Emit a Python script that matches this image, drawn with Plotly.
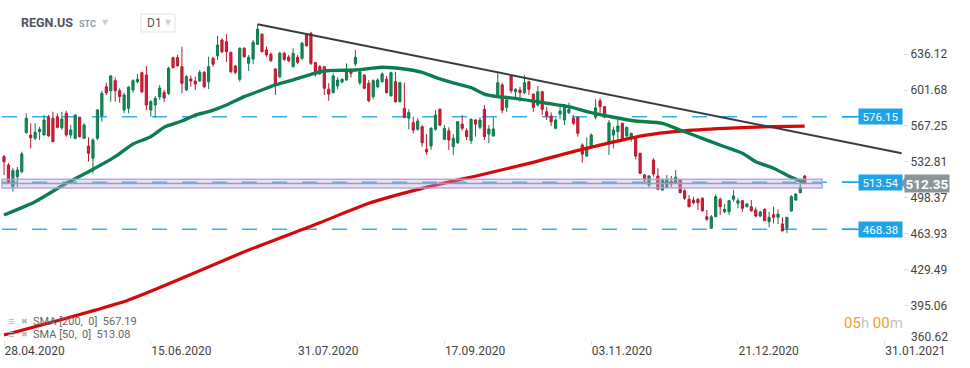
import plotly.graph_objects as go

# ---------------- data ----------------
opens = [
    537.9, 529.9, 509.2, 518.7, 523.5, 560.8, 558.6, 555.5, 561.8, 558.6,
    576.1, 574.6, 576.1, 565.6, 579.4, 558.6, 555.5, 575.6, 555.5, 548.1,
    536.3, 555.5, 577.1, 604.8, 601.0, 610.6, 601.0, 582.5, 584.2, 601.7,
    609.6, 618.2, 616.0, 582.5, 587.3, 595.0, 599.3, 598.5, 632.6, 632.6,
    624.0, 601.7, 612.2, 610.3, 610.3, 618.6, 609.6, 632.0, 634.5, 649.5,
    647.9, 637.7, 624.6, 611.9, 641.6, 627.2, 631.3, 645.4, 655.0, 640.0,
    635.8, 621.8, 614.4, 636.8, 633.2, 624.0, 633.0, 632.0, 654.3, 655.9,
    627.8, 624.0, 624.0, 602.4, 599.1, 605.5, 609.3, 611.2, 620.1, 626.5,
    608.6, 616.0, 608.1, 595.3, 604.8, 609.6, 611.9, 596.2, 609.6, 590.5,
    584.2, 574.6, 570.4, 564.1, 566.6, 544.9, 548.1, 564.1, 583.2, 554.5,
    562.7, 547.4, 551.3, 569.1, 562.7, 553.2, 573.0, 566.0, 583.2, 559.6,
    557.7, 595.3, 606.5, 585.1, 615.1, 600.0, 601.7, 599.1, 609.6, 597.6,
    587.3, 600.0, 580.9, 576.8, 565.0, 578.7, 573.0, 580.0, 574.6, 575.6,
    549.1, 538.5, 547.4, 575.6, 591.4, 585.7, 550.0, 558.6, 561.8, 569.8,
    557.7, 556.4, 555.5, 541.1, 520.4, 510.8, 534.7, 519.4, 506.0, 508.6,
    513.9, 513.0, 515.6, 505.3, 497.1, 496.4, 497.1, 498.1, 480.4, 469.4,
    480.4, 497.1, 485.2, 485.2, 497.1, 493.3, 495.8, 490.0, 490.0, 486.9,
    481.1, 487.5, 475.7, 482.4, 479.9, 473.5, 469.4, 485.9, 496.4, 503.4,
    519.4]
highs = [
    539.5, 531.8, 527.1, 528.0, 542.7, 579.4, 569.8, 569.8, 566.6, 577.7,
    577.7, 580.9, 579.4, 580.9, 581.9, 568.2, 578.4, 576.1, 569.8, 556.4,
    555.5, 583.5, 601.0, 608.6, 616.0, 613.8, 603.3, 599.1, 605.5, 611.9,
    617.0, 619.2, 624.6, 592.1, 595.9, 606.5, 601.7, 624.0, 633.5, 635.2,
    643.1, 616.0, 615.4, 614.4, 620.8, 619.8, 633.5, 633.5, 653.6, 651.1,
    655.0, 638.3, 625.6, 642.5, 642.5, 635.2, 649.5, 664.6, 655.9, 643.1,
    637.7, 622.4, 638.3, 638.3, 635.2, 641.6, 635.2, 647.9, 655.9, 657.4,
    628.7, 625.6, 624.0, 608.1, 617.6, 613.8, 612.9, 627.2, 622.4, 640.0,
    620.1, 616.7, 611.2, 611.9, 612.9, 618.6, 615.1, 619.2, 619.2, 609.6,
    608.6, 583.2, 576.1, 574.6, 568.2, 559.6, 566.0, 582.5, 584.2, 568.2,
    566.0, 559.6, 572.0, 577.7, 565.0, 574.6, 573.6, 575.6, 587.3, 568.2,
    575.6, 617.6, 608.6, 594.7, 616.0, 603.3, 604.8, 616.0, 610.6, 598.5,
    605.5, 601.0, 585.7, 580.3, 574.6, 585.7, 588.0, 589.5, 577.7, 576.1,
    550.7, 556.4, 560.2, 592.8, 593.7, 586.4, 573.0, 566.6, 573.0, 570.4,
    566.6, 560.8, 557.7, 541.7, 521.3, 520.4, 536.3, 526.8, 517.2, 520.4,
    519.4, 525.1, 516.2, 506.7, 501.2, 499.6, 498.1, 499.0, 486.9, 482.1,
    501.9, 499.0, 492.6, 496.4, 506.0, 498.1, 496.4, 493.3, 496.4, 489.4,
    486.2, 488.5, 485.2, 490.0, 487.5, 479.9, 479.9, 501.2, 502.8, 517.2,
    520.4]
lows = [
    520.4, 512.7, 504.4, 508.9, 522.0, 560.2, 545.9, 553.8, 553.8, 558.6,
    557.0, 552.2, 565.0, 563.4, 557.0, 555.5, 554.5, 556.4, 554.8, 533.1,
    522.0, 553.8, 571.4, 596.9, 590.5, 590.5, 589.5, 579.4, 579.4, 599.1,
    608.1, 598.5, 582.5, 576.1, 575.2, 592.1, 590.2, 596.9, 622.4, 624.0,
    598.5, 600.7, 604.8, 601.7, 609.6, 603.3, 602.6, 624.0, 630.4, 636.8,
    628.7, 617.6, 616.7, 609.6, 632.6, 619.9, 626.3, 644.7, 637.7, 633.5,
    628.7, 596.9, 612.9, 629.4, 628.2, 623.0, 626.3, 630.4, 643.1, 625.6,
    614.4, 616.0, 596.9, 591.4, 598.5, 602.4, 608.1, 610.6, 613.8, 624.6,
    606.5, 602.4, 589.9, 592.8, 603.3, 608.6, 598.5, 595.3, 589.5, 589.9,
    574.6, 564.1, 560.3, 562.7, 547.4, 539.5, 544.3, 562.7, 567.2, 553.8,
    544.3, 539.5, 550.0, 562.7, 553.8, 550.0, 557.0, 564.1, 553.8, 550.7,
    557.0, 593.7, 579.4, 580.9, 598.5, 592.8, 590.5, 597.8, 596.9, 580.9,
    585.7, 577.7, 573.0, 567.2, 564.1, 573.6, 568.2, 578.7, 568.2, 557.0,
    532.1, 537.9, 546.9, 573.6, 577.7, 574.6, 539.5, 545.9, 552.2, 553.2,
    556.4, 552.2, 535.4, 521.3, 513.9, 508.6, 518.7, 506.0, 505.3, 507.6,
    508.6, 512.4, 502.9, 496.4, 489.4, 492.6, 486.9, 485.2, 476.6, 468.7,
    480.4, 482.1, 483.7, 482.1, 494.8, 488.5, 485.2, 489.4, 485.2, 479.9,
    479.9, 476.6, 470.3, 474.1, 473.5, 466.8, 464.6, 485.2, 495.8, 502.9,
    512.0]
closes = [
    533.1, 513.9, 524.5, 525.1, 540.5, 574.6, 556.0, 561.2, 564.1, 573.0,
    557.7, 552.2, 566.0, 573.9, 558.6, 563.4, 577.7, 557.0, 568.2, 541.1,
    553.8, 582.5, 598.5, 599.1, 615.1, 601.0, 595.3, 596.9, 604.3, 610.6,
    611.9, 600.0, 587.3, 590.5, 593.7, 603.6, 594.0, 622.4, 623.0, 624.9,
    608.1, 614.4, 610.3, 607.4, 618.6, 604.8, 624.0, 626.3, 644.7, 638.3,
    638.3, 619.2, 618.6, 641.6, 633.5, 633.0, 647.3, 660.0, 638.3, 635.2,
    629.7, 607.1, 636.8, 631.0, 629.7, 636.8, 628.2, 646.4, 644.1, 627.2,
    619.2, 617.6, 603.3, 597.8, 615.1, 611.2, 611.9, 620.1, 617.6, 633.0,
    619.2, 603.3, 591.4, 610.6, 611.2, 617.0, 599.1, 618.2, 590.5, 608.6,
    575.6, 580.0, 563.4, 572.0, 551.3, 542.6, 565.0, 577.7, 568.2, 565.0,
    553.8, 555.5, 571.4, 565.0, 557.0, 573.6, 569.1, 573.0, 557.0, 564.4,
    564.4, 608.6, 582.5, 592.1, 601.0, 602.4, 599.1, 608.6, 602.4, 585.1,
    600.0, 583.2, 576.8, 571.4, 573.0, 581.6, 587.3, 583.2, 569.8, 560.2,
    540.2, 546.9, 558.6, 584.7, 585.7, 576.8, 570.4, 563.4, 567.2, 554.5,
    566.0, 560.2, 538.5, 522.0, 515.6, 519.4, 521.3, 506.7, 515.6, 515.6,
    511.7, 518.2, 503.4, 498.1, 490.0, 493.9, 493.9, 486.2, 478.0, 480.4,
    499.6, 490.0, 487.5, 495.8, 500.3, 495.8, 488.5, 492.6, 486.2, 481.1,
    485.0, 476.6, 479.9, 479.9, 483.0, 466.8, 479.9, 499.6, 502.2, 508.6,
    512.35]
assert len(opens) == len(highs) == len(lows) == len(closes)
bar_idx = list(range(len(closes)))

sma50_idx = [0, 7, 14, 19, 25, 29, 33, 36, 40, 43, 46, 50, 54, 58, 61, 65, 69, 72,
             79, 85, 90, 94, 97, 101, 105, 108, 111, 115, 122, 127, 132, 137, 142,
             148, 152, 158, 162, 166, 169, 173, 177, 180]
sma50 = [482.1, 494.8, 512.4, 523.5, 537.9, 550.0, 557.0, 566.0, 572.0, 577.7, 580.9,
         587.3, 595.3, 601.7, 606.5, 611.3, 616.7, 619.9, 620.8, 623.4, 621.8, 618.6,
         613.8, 608.6, 603.9, 597.8, 595.3, 593.7, 589.0, 585.7, 580.0, 575.6, 572.0,
         569.8, 563.4, 553.8, 547.4, 541.1, 533.1, 526.8, 518.2, 513.08]
sma200_idx = [0, 28, 55, 71, 82, 94, 108, 118, 130, 144, 152, 162, 173, 180]
sma200 = [367.3, 400.8, 448.6, 474.7, 493.3, 507.6, 521.3, 531.5, 544.9, 558.3,
          562.4, 565.0, 566.6, 567.19]

trend_idx = [57, 201.8]
trend_val = [664.6, 541.1]

level_lines = [576.15, 513.54, 468.38]
zone_low, zone_high = 507.9, 516.4
zone_start, zone_end = -0.45, 183.9
last_price = 512.35

x_tick_idx = [0, 33, 66, 99, 132, 165, 198]
x_tick_text = ["28.04.2020", "15.06.2020", "31.07.2020", "17.09.2020",
               "03.11.2020", "21.12.2020", "31.01.2021"]
y_ticks = [395.06, 429.49, 463.93, 498.37, 532.81, 567.25, 601.68, 636.12]
y_bottom_label = 360.62

# ---------------- layout geometry ----------------
W, H = 970, 368
ML, MR, MT, MB = 0, 67, 10, 23
PW, PH = W - ML - MR, H - MT - MB


def px(xp):  # pixel x -> paper
    return (xp - ML) / PW


def py(yp):  # pixel y -> paper
    return (H - MB - yp) / PH


FONT = "Roboto, 'Open Sans', sans-serif"
GREEN = "#13895a"
RED = "#d3203a"
BLUE = "#1ea3e6"

fig = go.Figure()

fig.add_trace(go.Candlestick(
    x=bar_idx, open=opens, high=highs, low=lows, close=closes,
    increasing=dict(line=dict(color="#0f7a4d", width=1), fillcolor=GREEN),
    decreasing=dict(line=dict(color="#b8182e", width=1), fillcolor=RED),
    whiskerwidth=0, showlegend=False, hoverinfo="skip"))

fig.add_trace(go.Scatter(x=sma200_idx, y=sma200, mode="lines",
                         line=dict(color="#d40a0a", width=3.2, shape="spline", smoothing=0.6),
                         showlegend=False, hoverinfo="skip"))
fig.add_trace(go.Scatter(x=sma50_idx, y=sma50, mode="lines",
                         line=dict(color="#0c7d50", width=3.4, shape="spline", smoothing=0.6),
                         showlegend=False, hoverinfo="skip"))
fig.add_trace(go.Scatter(x=trend_idx, y=trend_val, mode="lines",
                         line=dict(color="#363c43", width=2),
                         showlegend=False, hoverinfo="skip"))

shapes = []
for lv in level_lines:
    shapes.append(dict(type="line", xref="paper", yref="y", x0=px(2), x1=px(857),
                       y0=lv, y1=lv, layer="below",
                       line=dict(color="#39aee8", width=1.5, dash="15px,15px")))
    shapes.append(dict(type="line", xref="paper", yref="y", x0=px(842), x1=px(859),
                       y0=lv, y1=lv, layer="below",
                       line=dict(color=BLUE, width=1.5)))
# zone band
shapes.append(dict(type="rect", xref="x", yref="y", x0=zone_start, x1=zone_end,
                   y0=zone_low, y1=zone_high, layer="above",
                   fillcolor="rgba(185,172,228,0.35)",
                   line=dict(color="rgba(175,160,220,0.9)", width=1.5)))
shapes.append(dict(type="line", xref="x", yref="y", x0=zone_start, x1=zone_end,
                   y0=(zone_low + zone_high) / 2, y1=(zone_low + zone_high) / 2,
                   layer="above", line=dict(color="#a09ca8", width=1.5)))
# price tag arrow
shapes.append(dict(type="path", xref="paper", yref="y", layer="above",
                   path=f"M {px(901)} {last_price} L {px(906)} {last_price + 7.2} "
                        f"L {px(906)} {last_price - 7.2} Z",
                   fillcolor="#8b9499", line=dict(width=0)))
# D1 box
shapes.append(dict(type="rect", xref="paper", yref="paper", x0=px(141), x1=px(175),
                   y0=py(32), y1=py(14), fillcolor="white",
                   line=dict(color="#e2e2e2", width=1), layer="above"))

ann = []
for lv in level_lines:
    ann.append(dict(xref="paper", yref="y", x=px(880.5), y=lv, text=f"{lv:.2f}",
                    showarrow=False, xanchor="center", yanchor="middle",
                    width=41, height=13, bgcolor=BLUE,
                    font=dict(family=FONT, size=11.5, color="white")))
ann.append(dict(xref="paper", yref="y", x=px(927), y=last_price, text=f"<b>{last_price:.2f}</b>",
                showarrow=False, xanchor="center", yanchor="middle", width=42, height=15,
                bgcolor="#8b9499", font=dict(family=FONT, size=13.5, color="white")))
# bottom price label, lifted above the date row as in the reference
ann.append(dict(xref="paper", yref="paper", x=px(909), y=py(337), showarrow=False,
                xanchor="left", yanchor="middle", text=f"{y_bottom_label:.2f}",
                font=dict(family=FONT, size=12, color="#444444")))
ann.append(dict(xref="paper", yref="paper", x=px(873), y=py(323), showarrow=False,
                xanchor="center", yanchor="middle",
                text="<span style='color:#f5a01e'>05</span><span style='color:#c4c4c4'>h </span>"
                     "<span style='color:#f5a01e'>00</span><span style='color:#c4c4c4'>m</span>",
                font=dict(family=FONT, size=15)))
# SMA legend
for yy, txt in [(321, "SMA [200,  0]  567.19"), (334, "SMA [50,  0]  513.08")]:
    ann.append(dict(xref="paper", yref="paper", x=px(6), y=py(yy), showarrow=False,
                    xanchor="left", yanchor="middle", text="≡",
                    font=dict(family=FONT, size=11, color="#b5b5b5")))
    ann.append(dict(xref="paper", yref="paper", x=px(19), y=py(yy), showarrow=False,
                    xanchor="left", yanchor="middle", text="✖",
                    font=dict(family="DejaVu Sans", size=8, color="#b5b5b5")))
    ann.append(dict(xref="paper", yref="paper", x=px(31), y=py(yy), showarrow=False,
                    xanchor="left", yanchor="middle", text=txt,
                    font=dict(family=FONT, size=11, color="#666666")))
# header
ann.append(dict(xref="paper", yref="paper", x=px(19), y=py(23), showarrow=False,
                xanchor="left", yanchor="middle", text="<b>REGN.US</b>",
                font=dict(family=FONT, size=12.5, color="#4b5660")))
ann.append(dict(xref="paper", yref="paper", x=px(77), y=py(24), showarrow=False,
                xanchor="left", yanchor="middle", text="<b>STC</b>",
                font=dict(family=FONT, size=9, color="#8a9cab")))
ann.append(dict(xref="paper", yref="paper", x=px(100), y=py(22), showarrow=False,
                xanchor="left", yanchor="middle", text="▼",
                font=dict(family="DejaVu Sans", size=8, color="#cfcfcf")))
ann.append(dict(xref="paper", yref="paper", x=px(145), y=py(23), showarrow=False,
                xanchor="left", yanchor="middle", text="D1",
                font=dict(family=FONT, size=12, color="#555555")))
ann.append(dict(xref="paper", yref="paper", x=px(163), y=py(23), showarrow=False,
                xanchor="left", yanchor="middle", text="▼",
                font=dict(family="DejaVu Sans", size=8, color="#cfcfcf")))

y_lo = 687.78 - 0.9567 * (H - MB)
y_hi = 687.78 - 0.9567 * MT

fig.update_layout(
    width=W, height=H, margin=dict(l=ML, r=MR, t=MT, b=MB, autoexpand=False),
    paper_bgcolor="white", plot_bgcolor="white",
    font=dict(family=FONT, color="#444444", size=12),
    shapes=shapes, annotations=ann, showlegend=False,
    xaxis=dict(range=[-0.9, 202.1], rangeslider=dict(visible=False), showgrid=False,
               zeroline=False, showline=False, tickmode="array", tickvals=x_tick_idx,
               ticktext=x_tick_text, ticks="inside", ticklen=4, tickcolor="#e0e0e0",
               ticklabelposition="outside right", ticklabelstandoff=-3,
               tickfont=dict(family=FONT, size=12, color="#444444")),
    yaxis=dict(range=[y_lo, y_hi], side="right", showgrid=False, zeroline=False,
               showline=False, tickmode="array", tickvals=y_ticks,
               ticktext=[f"{v:.2f}" for v in y_ticks], ticks="outside", ticklen=4,
               tickcolor="#dddddd", tickfont=dict(family=FONT, size=12, color="#444444")),
)

fig.write_html("out.html", config={"displayModeBar": False},
               post_script="document.body.style.margin='0px';")
